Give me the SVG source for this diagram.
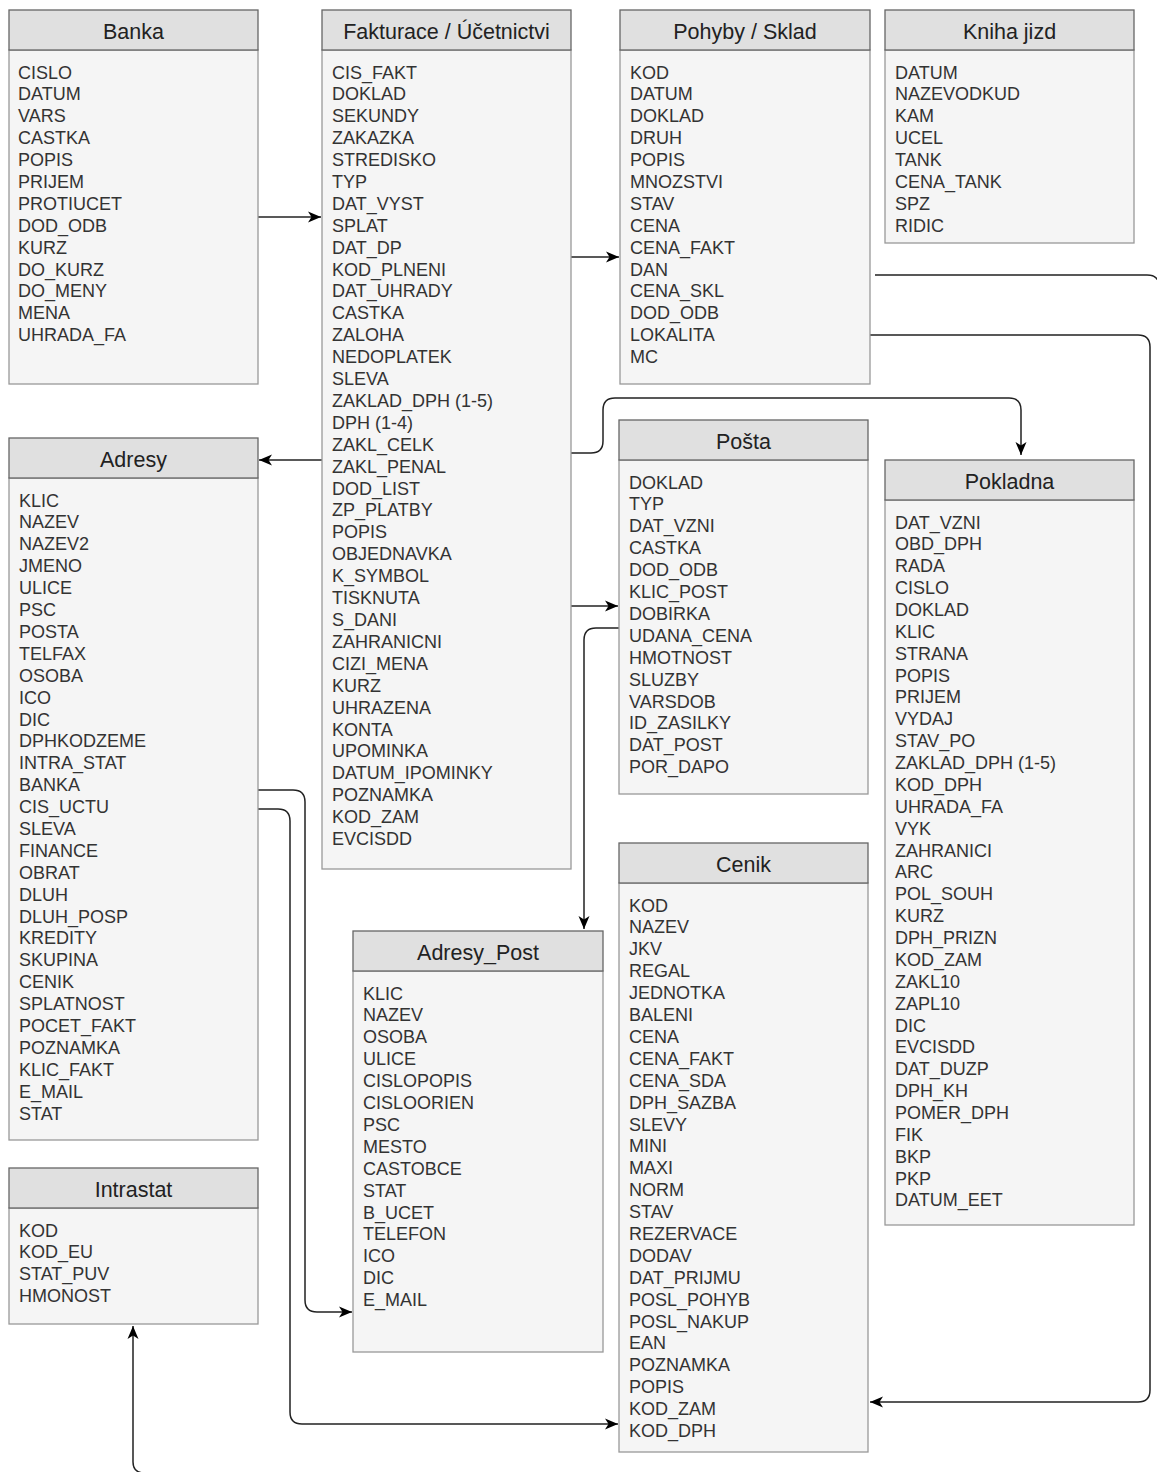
<svg xmlns="http://www.w3.org/2000/svg" width="1157" height="1472" viewBox="0 0 1157 1472">
<style>
.hd{fill:#e0e0e0;stroke:#666;stroke-width:1.3}
.bd{fill:#f5f5f5;stroke:#999;stroke-width:1.3}
.ttl{font-family:"Liberation Sans",Arial,sans-serif;font-size:21.5px;fill:#222;text-anchor:middle}
.it{font-family:"Liberation Sans",Arial,sans-serif;font-size:18px;fill:#333}
.cn{fill:none;stroke:#222;stroke-width:1.5}
</style>
<defs>
<marker id="ar" markerUnits="userSpaceOnUse" markerWidth="16" markerHeight="14" refX="14" refY="7" orient="auto">
<path d="M1,1.5 L14,7 L1,12.5 L4.5,7 z" fill="#000"/>
</marker>
</defs>
<rect width="1157" height="1472" fill="#fff"/>

<g id="connectors">
<path class="cn" d="M258 217 L321 217" marker-end="url(#ar)"/>
<path class="cn" d="M571 257 L619 257" marker-end="url(#ar)"/>
<path class="cn" d="M322 460 L259 460" marker-end="url(#ar)"/>
<path class="cn" d="M571 453 L591 453 Q603 453 603 441 L603 410 Q603 398 615 398 L1009 398 Q1021 398 1021 410 L1021 455" marker-end="url(#ar)"/>
<path class="cn" d="M571 606 L618 606" marker-end="url(#ar)"/>
<path class="cn" d="M619 628 L596 628 Q584 628 584 640 L584 929" marker-end="url(#ar)"/>
<path class="cn" d="M875 275 L1147 275 Q1157 275 1159 283"/>
<path class="cn" d="M868 335 L1138 335 Q1150 335 1150 347 L1150 1390 Q1150 1402 1138 1402 L870 1402" marker-end="url(#ar)"/>
<path class="cn" d="M258 790 L293 790 Q305 790 305 802 L305 1300 Q305 1312 317 1312 L352 1312" marker-end="url(#ar)"/>
<path class="cn" d="M258 809 L278 809 Q290 809 290 821 L290 1412 Q290 1424 302 1424 L618 1424" marker-end="url(#ar)"/>
<path class="cn" d="M143 1473 Q133 1472 133 1462 L133 1326" marker-end="url(#ar)"/>
</g>

<g id="banka">
<rect class="bd" x="9" y="50" width="249" height="334"/>
<rect class="hd" x="9" y="10" width="249" height="40"/>
<text class="ttl" x="133.5" y="38.5">Banka</text>
<text class="it" x="18" y="78.5"><tspan x="18">CISLO</tspan><tspan x="18" dy="21.9">DATUM</tspan><tspan x="18" dy="21.9">VARS</tspan><tspan x="18" dy="21.9">CASTKA</tspan><tspan x="18" dy="21.9">POPIS</tspan><tspan x="18" dy="21.9">PRIJEM</tspan><tspan x="18" dy="21.9">PROTIUCET</tspan><tspan x="18" dy="21.9">DOD_ODB</tspan><tspan x="18" dy="21.9">KURZ</tspan><tspan x="18" dy="21.9">DO_KURZ</tspan><tspan x="18" dy="21.9">DO_MENY</tspan><tspan x="18" dy="21.9">MENA</tspan><tspan x="18" dy="21.9">UHRADA_FA</tspan></text>
</g>

<g id="fakturace">
<rect class="bd" x="322" y="50" width="249" height="819"/>
<rect class="hd" x="322" y="10" width="249" height="40"/>
<text class="ttl" x="446.5" y="38.5">Fakturace / Účetnictvi</text>
<text class="it" x="332" y="78.5"><tspan x="332">CIS_FAKT</tspan><tspan x="332" dy="21.9">DOKLAD</tspan><tspan x="332" dy="21.9">SEKUNDY</tspan><tspan x="332" dy="21.9">ZAKAZKA</tspan><tspan x="332" dy="21.9">STREDISKO</tspan><tspan x="332" dy="21.9">TYP</tspan><tspan x="332" dy="21.9">DAT_VYST</tspan><tspan x="332" dy="21.9">SPLAT</tspan><tspan x="332" dy="21.9">DAT_DP</tspan><tspan x="332" dy="21.9">KOD_PLNENI</tspan><tspan x="332" dy="21.9">DAT_UHRADY</tspan><tspan x="332" dy="21.9">CASTKA</tspan><tspan x="332" dy="21.9">ZALOHA</tspan><tspan x="332" dy="21.9">NEDOPLATEK</tspan><tspan x="332" dy="21.9">SLEVA</tspan><tspan x="332" dy="21.9">ZAKLAD_DPH (1-5)</tspan><tspan x="332" dy="21.9">DPH (1-4)</tspan><tspan x="332" dy="21.9">ZAKL_CELK</tspan><tspan x="332" dy="21.9">ZAKL_PENAL</tspan><tspan x="332" dy="21.9">DOD_LIST</tspan><tspan x="332" dy="21.9">ZP_PLATBY</tspan><tspan x="332" dy="21.9">POPIS</tspan><tspan x="332" dy="21.9">OBJEDNAVKA</tspan><tspan x="332" dy="21.9">K_SYMBOL</tspan><tspan x="332" dy="21.9">TISKNUTA</tspan><tspan x="332" dy="21.9">S_DANI</tspan><tspan x="332" dy="21.9">ZAHRANICNI</tspan><tspan x="332" dy="21.9">CIZI_MENA</tspan><tspan x="332" dy="21.9">KURZ</tspan><tspan x="332" dy="21.9">UHRAZENA</tspan><tspan x="332" dy="21.9">KONTA</tspan><tspan x="332" dy="21.9">UPOMINKA</tspan><tspan x="332" dy="21.9">DATUM_IPOMINKY</tspan><tspan x="332" dy="21.9">POZNAMKA</tspan><tspan x="332" dy="21.9">KOD_ZAM</tspan><tspan x="332" dy="21.9">EVCISDD</tspan></text>
</g>

<g id="pohyby">
<rect class="bd" x="620" y="50" width="250" height="334"/>
<rect class="hd" x="620" y="10" width="250" height="40"/>
<text class="ttl" x="745" y="38.5">Pohyby / Sklad</text>
<text class="it" x="630" y="78.5"><tspan x="630">KOD</tspan><tspan x="630" dy="21.9">DATUM</tspan><tspan x="630" dy="21.9">DOKLAD</tspan><tspan x="630" dy="21.9">DRUH</tspan><tspan x="630" dy="21.9">POPIS</tspan><tspan x="630" dy="21.9">MNOZSTVI</tspan><tspan x="630" dy="21.9">STAV</tspan><tspan x="630" dy="21.9">CENA</tspan><tspan x="630" dy="21.9">CENA_FAKT</tspan><tspan x="630" dy="21.9">DAN</tspan><tspan x="630" dy="21.9">CENA_SKL</tspan><tspan x="630" dy="21.9">DOD_ODB</tspan><tspan x="630" dy="21.9">LOKALITA</tspan><tspan x="630" dy="21.9">MC</tspan></text>
</g>

<g id="kniha-jizd">
<rect class="bd" x="885" y="50" width="249" height="193"/>
<rect class="hd" x="885" y="10" width="249" height="40"/>
<text class="ttl" x="1009.5" y="38.5">Kniha jizd</text>
<text class="it" x="895" y="78.5"><tspan x="895">DATUM</tspan><tspan x="895" dy="21.9">NAZEVODKUD</tspan><tspan x="895" dy="21.9">KAM</tspan><tspan x="895" dy="21.9">UCEL</tspan><tspan x="895" dy="21.9">TANK</tspan><tspan x="895" dy="21.9">CENA_TANK</tspan><tspan x="895" dy="21.9">SPZ</tspan><tspan x="895" dy="21.9">RIDIC</tspan></text>
</g>

<g id="adresy">
<rect class="bd" x="9" y="478" width="249" height="662"/>
<rect class="hd" x="9" y="438" width="249" height="40"/>
<text class="ttl" x="133.5" y="466.5">Adresy</text>
<text class="it" x="19" y="506.5"><tspan x="19">KLIC</tspan><tspan x="19" dy="21.9">NAZEV</tspan><tspan x="19" dy="21.9">NAZEV2</tspan><tspan x="19" dy="21.9">JMENO</tspan><tspan x="19" dy="21.9">ULICE</tspan><tspan x="19" dy="21.9">PSC</tspan><tspan x="19" dy="21.9">POSTA</tspan><tspan x="19" dy="21.9">TELFAX</tspan><tspan x="19" dy="21.9">OSOBA</tspan><tspan x="19" dy="21.9">ICO</tspan><tspan x="19" dy="21.9">DIC</tspan><tspan x="19" dy="21.9">DPHKODZEME</tspan><tspan x="19" dy="21.9">INTRA_STAT</tspan><tspan x="19" dy="21.9">BANKA</tspan><tspan x="19" dy="21.9">CIS_UCTU</tspan><tspan x="19" dy="21.9">SLEVA</tspan><tspan x="19" dy="21.9">FINANCE</tspan><tspan x="19" dy="21.9">OBRAT</tspan><tspan x="19" dy="21.9">DLUH</tspan><tspan x="19" dy="21.9">DLUH_POSP</tspan><tspan x="19" dy="21.9">KREDITY</tspan><tspan x="19" dy="21.9">SKUPINA</tspan><tspan x="19" dy="21.9">CENIK</tspan><tspan x="19" dy="21.9">SPLATNOST</tspan><tspan x="19" dy="21.9">POCET_FAKT</tspan><tspan x="19" dy="21.9">POZNAMKA</tspan><tspan x="19" dy="21.9">KLIC_FAKT</tspan><tspan x="19" dy="21.9">E_MAIL</tspan><tspan x="19" dy="21.9">STAT</tspan></text>
</g>

<g id="intrastat">
<rect class="bd" x="9" y="1208" width="249" height="116"/>
<rect class="hd" x="9" y="1168" width="249" height="40"/>
<text class="ttl" x="133.5" y="1196.5">Intrastat</text>
<text class="it" x="19" y="1236.5"><tspan x="19">KOD</tspan><tspan x="19" dy="21.9">KOD_EU</tspan><tspan x="19" dy="21.9">STAT_PUV</tspan><tspan x="19" dy="21.9">HMONOST</tspan></text>
</g>

<g id="posta">
<rect class="bd" x="619" y="460" width="249" height="334"/>
<rect class="hd" x="619" y="420" width="249" height="40"/>
<text class="ttl" x="743.5" y="448.5">Pošta</text>
<text class="it" x="629" y="488.5"><tspan x="629">DOKLAD</tspan><tspan x="629" dy="21.9">TYP</tspan><tspan x="629" dy="21.9">DAT_VZNI</tspan><tspan x="629" dy="21.9">CASTKA</tspan><tspan x="629" dy="21.9">DOD_ODB</tspan><tspan x="629" dy="21.9">KLIC_POST</tspan><tspan x="629" dy="21.9">DOBIRKA</tspan><tspan x="629" dy="21.9">UDANA_CENA</tspan><tspan x="629" dy="21.9">HMOTNOST</tspan><tspan x="629" dy="21.9">SLUZBY</tspan><tspan x="629" dy="21.9">VARSDOB</tspan><tspan x="629" dy="21.9">ID_ZASILKY</tspan><tspan x="629" dy="21.9">DAT_POST</tspan><tspan x="629" dy="21.9">POR_DAPO</tspan></text>
</g>

<g id="pokladna">
<rect class="bd" x="885" y="500" width="249" height="725"/>
<rect class="hd" x="885" y="460" width="249" height="40"/>
<text class="ttl" x="1009.5" y="488.5">Pokladna</text>
<text class="it" x="895" y="528.5"><tspan x="895">DAT_VZNI</tspan><tspan x="895" dy="21.87">OBD_DPH</tspan><tspan x="895" dy="21.87">RADA</tspan><tspan x="895" dy="21.87">CISLO</tspan><tspan x="895" dy="21.87">DOKLAD</tspan><tspan x="895" dy="21.87">KLIC</tspan><tspan x="895" dy="21.87">STRANA</tspan><tspan x="895" dy="21.87">POPIS</tspan><tspan x="895" dy="21.87">PRIJEM</tspan><tspan x="895" dy="21.87">VYDAJ</tspan><tspan x="895" dy="21.87">STAV_PO</tspan><tspan x="895" dy="21.87">ZAKLAD_DPH (1-5)</tspan><tspan x="895" dy="21.87">KOD_DPH</tspan><tspan x="895" dy="21.87">UHRADA_FA</tspan><tspan x="895" dy="21.87">VYK</tspan><tspan x="895" dy="21.87">ZAHRANICI</tspan><tspan x="895" dy="21.87">ARC</tspan><tspan x="895" dy="21.87">POL_SOUH</tspan><tspan x="895" dy="21.87">KURZ</tspan><tspan x="895" dy="21.87">DPH_PRIZN</tspan><tspan x="895" dy="21.87">KOD_ZAM</tspan><tspan x="895" dy="21.87">ZAKL10</tspan><tspan x="895" dy="21.87">ZAPL10</tspan><tspan x="895" dy="21.87">DIC</tspan><tspan x="895" dy="21.87">EVCISDD</tspan><tspan x="895" dy="21.87">DAT_DUZP</tspan><tspan x="895" dy="21.87">DPH_KH</tspan><tspan x="895" dy="21.87">POMER_DPH</tspan><tspan x="895" dy="21.87">FIK</tspan><tspan x="895" dy="21.87">BKP</tspan><tspan x="895" dy="21.87">PKP</tspan><tspan x="895" dy="21.87">DATUM_EET</tspan></text>
</g>

<g id="cenik">
<rect class="bd" x="619" y="883" width="249" height="569"/>
<rect class="hd" x="619" y="843" width="249" height="40"/>
<text class="ttl" x="743.5" y="871.5">Cenik</text>
<text class="it" x="629" y="911.5"><tspan x="629">KOD</tspan><tspan x="629" dy="21.9">NAZEV</tspan><tspan x="629" dy="21.9">JKV</tspan><tspan x="629" dy="21.9">REGAL</tspan><tspan x="629" dy="21.9">JEDNOTKA</tspan><tspan x="629" dy="21.9">BALENI</tspan><tspan x="629" dy="21.9">CENA</tspan><tspan x="629" dy="21.9">CENA_FAKT</tspan><tspan x="629" dy="21.9">CENA_SDA</tspan><tspan x="629" dy="21.9">DPH_SAZBA</tspan><tspan x="629" dy="21.9">SLEVY</tspan><tspan x="629" dy="21.9">MINI</tspan><tspan x="629" dy="21.9">MAXI</tspan><tspan x="629" dy="21.9">NORM</tspan><tspan x="629" dy="21.9">STAV</tspan><tspan x="629" dy="21.9">REZERVACE</tspan><tspan x="629" dy="21.9">DODAV</tspan><tspan x="629" dy="21.9">DAT_PRIJMU</tspan><tspan x="629" dy="21.9">POSL_POHYB</tspan><tspan x="629" dy="21.9">POSL_NAKUP</tspan><tspan x="629" dy="21.9">EAN</tspan><tspan x="629" dy="21.9">POZNAMKA</tspan><tspan x="629" dy="21.9">POPIS</tspan><tspan x="629" dy="21.9">KOD_ZAM</tspan><tspan x="629" dy="21.9">KOD_DPH</tspan></text>
</g>

<g id="adresy-post">
<rect class="bd" x="353" y="971" width="250" height="381"/>
<rect class="hd" x="353" y="931" width="250" height="40"/>
<text class="ttl" x="478" y="959.5">Adresy_Post</text>
<text class="it" x="363" y="999.5"><tspan x="363">KLIC</tspan><tspan x="363" dy="21.9">NAZEV</tspan><tspan x="363" dy="21.9">OSOBA</tspan><tspan x="363" dy="21.9">ULICE</tspan><tspan x="363" dy="21.9">CISLOPOPIS</tspan><tspan x="363" dy="21.9">CISLOORIEN</tspan><tspan x="363" dy="21.9">PSC</tspan><tspan x="363" dy="21.9">MESTO</tspan><tspan x="363" dy="21.9">CASTOBCE</tspan><tspan x="363" dy="21.9">STAT</tspan><tspan x="363" dy="21.9">B_UCET</tspan><tspan x="363" dy="21.9">TELEFON</tspan><tspan x="363" dy="21.9">ICO</tspan><tspan x="363" dy="21.9">DIC</tspan><tspan x="363" dy="21.9">E_MAIL</tspan></text>
</g>
</svg>
